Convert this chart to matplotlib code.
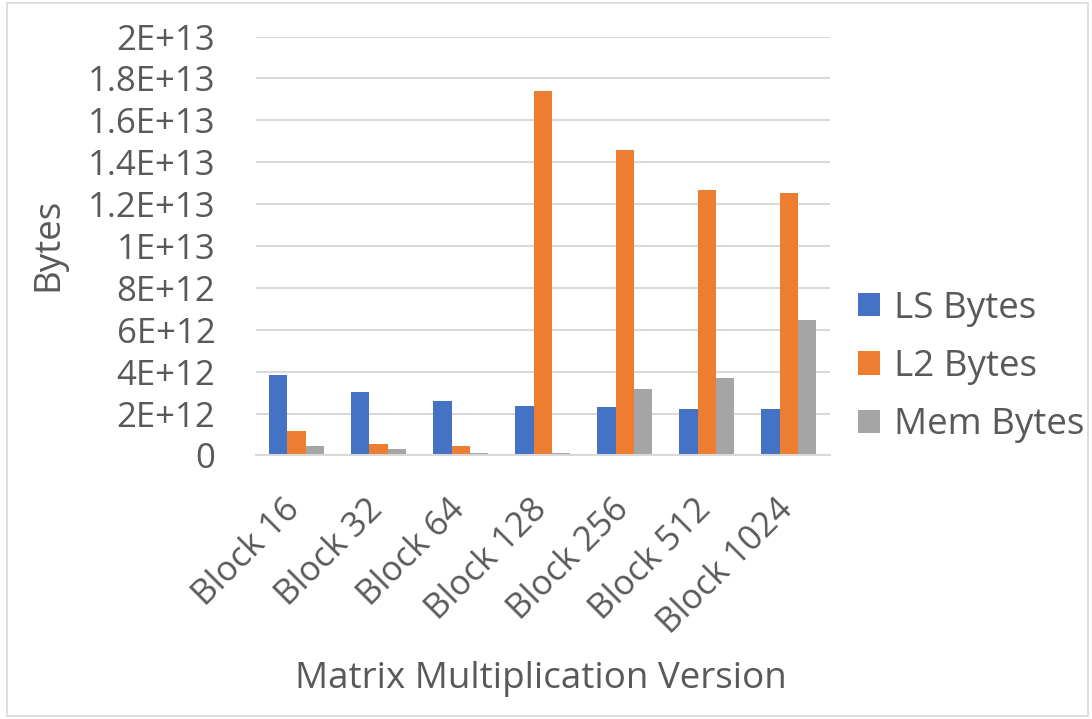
import numpy as np
import matplotlib
matplotlib.use("Agg")
import matplotlib.pyplot as plt
import matplotlib.transforms as mtransforms
from matplotlib.patches import Rectangle

plt.rcParams['font.family'] = ['Open Sans', 'DejaVu Sans']

versions = ['Block 16', 'Block 32', 'Block 64', 'Block 128', 'Block 256', 'Block 512', 'Block 1024']
ls_bytes = [3.86e12, 3.02e12, 2.59e12, 2.38e12, 2.30e12, 2.23e12, 2.23e12]
l2_bytes = [1.17e12, 0.53e12, 0.45e12, 17.39e12, 14.56e12, 12.65e12, 12.51e12]
mem_bytes = [0.45e12, 0.31e12, 0.12e12, 0.13e12, 3.16e12, 3.71e12, 6.48e12]
yticks = np.arange(0, 2.01e13, 2e12)
ytick_labels = ['0', '2E+12', '4E+12', '6E+12', '8E+12', '1E+13',
                '1.2E+13', '1.4E+13', '1.6E+13', '1.8E+13', '2E+13']

text_color = '#595959'
grid_color = '#D9D9D9'
fs_tick = 25
fs_big = 26.5

W, H = 1092, 719
fig = plt.figure(figsize=(W / 100, H / 100), dpi=100)
ax = fig.add_axes([0.234, 0.3665, 0.526, 0.5827])

x = np.arange(len(versions))
w = 0.223
ax.bar(x - w, ls_bytes, w, color='#4472C4', label='LS Bytes')
ax.bar(x, l2_bytes, w, color='#ED7D31', label='L2 Bytes')
ax.bar(x + w, mem_bytes, w, color='#A5A5A5', label='Mem Bytes')

ax.set_xlim(-0.5, len(versions) - 0.5)
ax.set_ylim(0, 2e13)
ax.set_yticks(yticks)
ax.set_yticklabels(ytick_labels)
ax.yaxis.grid(True, color=grid_color, linewidth=1.5)
ax.set_axisbelow(True)
for s in ['top', 'right', 'left']:
    ax.spines[s].set_visible(False)
ax.spines['bottom'].set_color(grid_color)
ax.spines['bottom'].set_linewidth(1.5)
ax.tick_params(axis='both', length=0, labelsize=fs_tick, colors=text_color)
ax.tick_params(axis='y', pad=29)

# rotated category labels, text end sitting just right of each category centre
ax.set_xticks(x)
ax.set_xticklabels(versions, rotation=45, ha='right', va='baseline', rotation_mode='anchor')
ax.tick_params(axis='x', pad=40)
shift = mtransforms.ScaledTranslation(5 / 100, 0, fig.dpi_scale_trans)
for lbl in ax.get_xticklabels():
    lbl.set_transform(lbl.get_transform() + shift)

fig.text(541 / W, 1 - 688 / H, 'Matrix Multiplication Version', fontsize=fs_big,
         color=text_color, ha='center', va='baseline')
fig.text(57 / W, 1 - 244 / H, 'Bytes', fontsize=fs_big, color=text_color,
         rotation=90, rotation_mode='anchor', ha='center', va='baseline')

leg = ax.legend(loc='center left', bbox_to_anchor=(858 / W, 1 - 367 / H),
                bbox_transform=fig.transFigure, frameon=False, borderpad=0,
                borderaxespad=0, fontsize=fs_big, labelcolor=text_color,
                handlelength=0.6, handleheight=0.6, handletextpad=0.38,
                labelspacing=0.61)

# light chart-area border
fig.patches.append(Rectangle((0.006, 0.004), 0.99, 0.992, transform=fig.transFigure,
                             fill=False, edgecolor='#D9D9D9', linewidth=1.2))

fig.savefig('out.png', dpi=100)
